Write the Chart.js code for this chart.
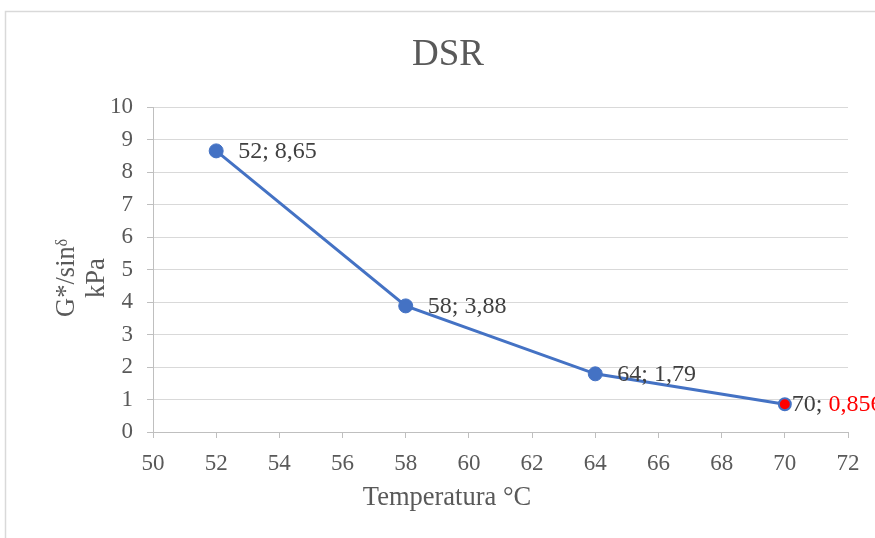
<!DOCTYPE html>
<html>
<head>
<meta charset="utf-8">
<script src="https://cdn.jsdelivr.net/npm/chart.js@4/dist/chart.umd.min.js"></script>
<style>
  html, body { margin: 0; padding: 0; background: #ffffff; }
  canvas { display: block; }
</style>
</head>
<body>
<canvas id="c" width="875" height="538"></canvas>
<script>
// ---- data ----
const temperatures = [52, 58, 64, 70];
const gValues = [8.65, 3.88, 1.79, 0.856];
const xTicks = [50, 52, 54, 56, 58, 60, 62, 64, 66, 68, 70, 72];
const yTicks = [0, 1, 2, 3, 4, 5, 6, 7, 8, 9, 10];
const chartTitle = 'DSR';
const xTitle = 'Temperatura °C';
const yTitle = ['G*/sin\u1D5F', 'kPa'];

const SERIF = "'Liberation Serif', 'Times New Roman', 'DejaVu Serif', serif";
const BLUE = '#4472C4';
const RED = '#FF0000';
const GREY_TEXT = '#595959';
const lastIdx = gValues.length - 1;

const points = temperatures.map((t, i) => ({ x: t, y: gValues[i] }));
const fmt = v => String(v).replace('.', ',');

const framePlugin = {
  id: 'frame',
  beforeDraw(chart) {
    const ctx = chart.ctx;
    ctx.save();
    ctx.fillStyle = '#ffffff';
    ctx.fillRect(0, 0, chart.width, chart.height);
    ctx.strokeStyle = '#D9D9D9';
    ctx.lineWidth = 1.5;
    ctx.beginPath();
    ctx.moveTo(5.5, chart.height + 2);
    ctx.lineTo(5.5, 11.5);
    ctx.lineTo(chart.width + 2, 11.5);
    ctx.stroke();
    ctx.restore();
  }
};

const titlesPlugin = {
  id: 'titles',
  afterDraw(chart) {
    const ctx = chart.ctx;
    ctx.save();
    ctx.fillStyle = GREY_TEXT;
    ctx.textAlign = 'center';
    ctx.textBaseline = 'middle';
    // main title
    ctx.font = '37px ' + SERIF;
    ctx.fillText(chartTitle, 448, 55);
    // x axis title
    ctx.font = '26.5px ' + SERIF;
    ctx.fillText(xTitle, 447, 498);
    // y axis title (rotated, two lines)
    ctx.translate(0, 278);
    ctx.rotate(-Math.PI / 2);
    ctx.fillText(yTitle[0], 0, 67);
    ctx.fillText(yTitle[1], 0, 97);
    ctx.restore();
  }
};

const labelPlugin = {
  id: 'pointLabels',
  afterDatasetsDraw(chart) {
    const ctx = chart.ctx;
    const meta = chart.getDatasetMeta(0);
    ctx.save();
    ctx.font = '24px ' + SERIF;
    ctx.textBaseline = 'middle';
    ctx.textAlign = 'left';
    meta.data.forEach((el, i) => {
      const px = el.x, py = el.y;
      if (i === lastIdx) {
        const a = temperatures[i] + '; ';
        const b = fmt(gValues[i]);
        const x0 = px + 7;
        ctx.fillStyle = '#404040';
        ctx.fillText(a, x0, py + 1);
        ctx.fillStyle = RED;
        ctx.fillText(b, x0 + ctx.measureText(a).width, py + 1);
      } else {
        ctx.fillStyle = '#404040';
        ctx.fillText(temperatures[i] + '; ' + fmt(gValues[i]), px + 22, py + 1);
      }
    });
    ctx.restore();
  }
};

new Chart(document.getElementById('c'), {
  type: 'scatter',
  data: {
    datasets: [{
      data: points,
      showLine: true,
      borderColor: BLUE,
      borderWidth: 3,
      pointRadius: ctx => ctx.dataIndex === lastIdx ? 6 : 7,
      pointBackgroundColor: ctx => ctx.dataIndex === lastIdx ? RED : BLUE,
      pointBorderColor: BLUE,
      pointBorderWidth: ctx => ctx.dataIndex === lastIdx ? 2 : 1,
      tension: 0
    }]
  },
  options: {
    responsive: false,
    animation: false,
    layout: { padding: { top: 107, right: 27, bottom: 0, left: 0 } },
    plugins: {
      legend: { display: false },
      tooltip: { enabled: false },
      title: { display: false }
    },
    scales: {
      x: {
        type: 'linear',
        min: xTicks[0],
        max: xTicks[xTicks.length - 1],
        afterBuildTicks: s => { s.ticks = xTicks.map(v => ({ value: v })); },
        afterFit: s => { s.height = 106; },
        ticks: {
          color: GREY_TEXT,
          font: { family: SERIF, size: 23 },
          padding: 12,
          maxRotation: 0,
          autoSkip: false
        },
        grid: {
          drawOnChartArea: false,
          drawTicks: true,
          tickLength: 6,
          tickColor: '#BFBFBF',
          color: '#BFBFBF'
        },
        border: { display: true, color: '#BFBFBF', width: 1 },
        title: { display: false }
      },
      y: {
        type: 'linear',
        min: yTicks[0],
        max: yTicks[yTicks.length - 1],
        afterBuildTicks: s => { s.ticks = yTicks.map(v => ({ value: v })); },
        afterFit: s => { s.width = 153; },
        ticks: {
          color: GREY_TEXT,
          font: { family: SERIF, size: 23 },
          padding: 14,
          autoSkip: false
        },
        grid: {
          drawOnChartArea: true,
          drawTicks: true,
          tickLength: 6,
          color: '#D9D9D9',
          tickColor: '#BFBFBF',
          lineWidth: 1
        },
        border: { display: true, color: '#BFBFBF', width: 1 },
        title: { display: false }
      }
    }
  },
  plugins: [framePlugin, labelPlugin, titlesPlugin]
});
</script>
</body>
</html>
